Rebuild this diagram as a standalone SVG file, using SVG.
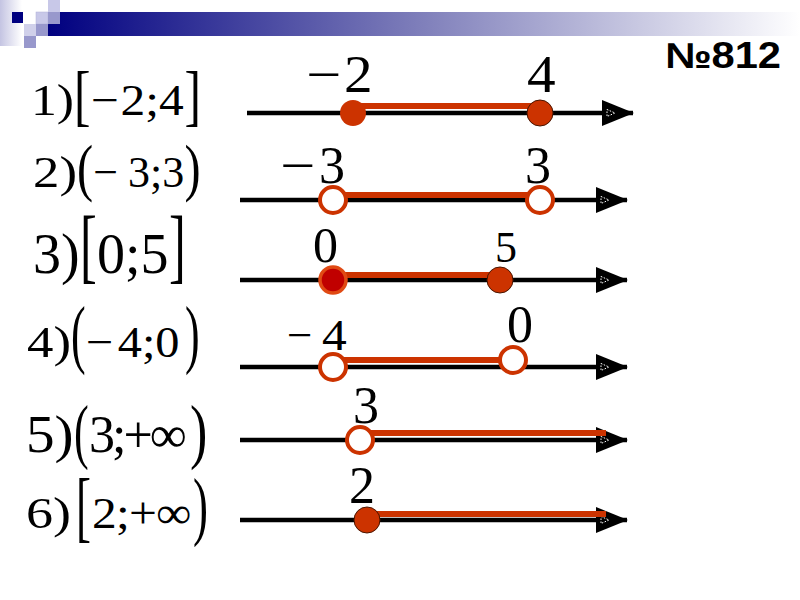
<svg xmlns="http://www.w3.org/2000/svg" width="800" height="600" viewBox="0 0 800 600">
<style>
.m{font-family:"Liberation Serif","Times New Roman",serif;fill:#000}
.axis{stroke:#000;stroke-width:4.5;fill:none;marker-end:url(#arr)}
.seg{stroke:#CC3300;stroke-width:6;fill:none}
.dot{fill:#CC3300;stroke:#4a1500;stroke-width:1}
.open{fill:#fff;stroke:#CC3300;stroke-width:4}
</style>
<defs>
<linearGradient id="bar" x1="0" y1="0" x2="1" y2="0">
<stop offset="0" stop-color="#000080"/>
<stop offset="0.5" stop-color="#8080bb"/>
<stop offset="1" stop-color="#ffffff"/>
</linearGradient>
<linearGradient id="side" x1="0" y1="0" x2="1" y2="0">
<stop offset="0" stop-color="#c4c4e2"/>
<stop offset="1" stop-color="#ffffff"/>
</linearGradient>
<marker id="arr" markerUnits="userSpaceOnUse" markerWidth="32" markerHeight="26" viewBox="0 0 32 26" refX="31" refY="13" orient="auto">
<path d="M0,0 L32,13 L0,26 Z" fill="#000"/>
<path d="M5,9.5 L13,13 L5,16.5 Z" fill="none" stroke="#fff" stroke-width="1" stroke-dasharray="1.5,1.5"/>
</marker>
</defs>
<rect width="800" height="600" fill="#fff"/>
<g id="banner">
<rect x="0" y="0" width="22" height="46" fill="url(#side)"/>
<rect x="48" y="12" width="752" height="24" fill="url(#bar)"/>
<rect x="12" y="12" width="11" height="11" fill="#000080"/>
<rect x="36" y="12" width="12" height="12" fill="#c8c8e8" stroke="#b0b0d8" stroke-width="0.5"/>
<rect x="48" y="0" width="12" height="12" fill="#c8c8e8"/>
<rect x="48" y="12" width="12" height="12" fill="#9898cc"/>
<rect x="24" y="24" width="12" height="12" fill="#d0d0ea"/>
<rect x="36" y="24" width="12" height="12" fill="#9898cc"/>
<rect x="24" y="36" width="12" height="12" fill="#9898cc"/>
</g>
<text id="title" x="665" y="68" font-family="'Liberation Sans',Arial,sans-serif" font-weight="bold" font-size="36" textLength="116" lengthAdjust="spacingAndGlyphs">№812</text>

<g id="labels">
<g id="label1" font-size="45">
<text class="m" transform="translate(31,115) scale(1.15,1)">1)</text>
<text class="m" transform="translate(74,117.5) scale(1.1,1.5)">[</text>
<text class="m" transform="translate(91,115) scale(1.1,1)">−<tspan dx="1.5">2;4</tspan></text>
<text class="m" transform="translate(184.5,117.5) scale(1.1,1.5)">]</text>
</g>
<g id="label2" font-size="44">
<text class="m" transform="translate(33,187) scale(1.2,1)">2)</text>
<text class="m" transform="translate(77,189) scale(1.1,1.45)">(</text>
<text class="m" transform="translate(93.2,187)">−<tspan dx="10">3;3</tspan></text>
<text class="m" transform="translate(184.5,189) scale(1.1,1.45)">)</text>
</g>
<g id="label3" font-size="56">
<text class="m" transform="translate(33,273)">3)</text>
<text class="m" transform="translate(80,273) scale(0.9,1.46)">[</text>
<text class="m" transform="translate(97,273)">0;5</text>
<text class="m" transform="translate(169,273) scale(0.9,1.46)">]</text>
</g>
<g id="label4" font-size="44">
<text class="m" transform="translate(27,357) scale(1.2,1)">4)</text>
<text class="m" transform="translate(71,359) scale(1,1.75)">(</text>
<text class="m" transform="translate(86,357) scale(1.1,1)">−<tspan dx="4">4;0</tspan></text>
<text class="m" transform="translate(185,359) scale(1,1.75)">)</text>
</g>
<g id="label5" font-size="52">
<text class="m" transform="translate(26,452) scale(1.1,1)">5)</text>
<text class="m" transform="translate(74,455) scale(0.85,1.4)">(</text>
<text class="m" transform="translate(89,452)" letter-spacing="-3">3;+∞</text>
<text class="m" transform="translate(190,455) scale(1,1.4)">)</text>
</g>
<g id="label6" font-size="45">
<text class="m" transform="translate(26,528) scale(1.2,1)">6)</text>
<text class="m" transform="translate(76,533) scale(1,1.73)">[</text>
<text class="m" transform="translate(92,528) scale(1.1,1)" letter-spacing="-0.7">2;+∞</text>
<text class="m" transform="translate(193,531) scale(1,1.7)">)</text>
</g>
</g>

<g id="line1">
<line class="axis" x1="247" y1="113" x2="633" y2="113"/>
<line class="seg" x1="353" y1="106" x2="540" y2="106"/>
<circle cx="353" cy="113" r="13" fill="#CC3300"/>
<circle class="dot" cx="540" cy="113" r="13"/>
<text class="m" font-size="52" transform="translate(306,92) scale(1.2,1)">−</text>
<text class="m" font-size="52" transform="translate(344,92) scale(1.1,1)">2</text>
<text class="m" font-size="52" transform="translate(527,92) scale(1.1,1)">4</text>
</g>
<g id="line2">
<line class="axis" x1="240" y1="200" x2="627" y2="200"/>
<line class="seg" x1="333" y1="195" x2="540" y2="195"/>
<circle class="open" cx="333" cy="200" r="13" stroke="#C00000"/>
<circle class="open" cx="540" cy="200" r="13" stroke="#DD4411"/>
<text class="m" font-size="52" transform="translate(280,183) scale(1.2,1)">−</text>
<text class="m" font-size="52" transform="translate(319,183)">3</text>
<text class="m" font-size="52" transform="translate(525,183)">3</text>
</g>
<g id="line3">
<line class="axis" x1="240" y1="280" x2="627" y2="280"/>
<line class="seg" x1="333" y1="275" x2="500" y2="275"/>
<circle cx="333" cy="280" r="13" fill="#C00000" stroke="#E04A14" stroke-width="3.5"/>
<circle class="dot" cx="500" cy="280" r="13"/>
<text class="m" font-size="50" transform="translate(313,262)">0</text>
<text class="m" font-size="44" transform="translate(495,262)">5</text>
</g>
<g id="line4">
<line class="axis" x1="240" y1="367" x2="627" y2="367"/>
<line class="seg" x1="333" y1="360" x2="513" y2="360"/>
<circle class="open" cx="333" cy="367" r="13"/>
<circle class="open" cx="513" cy="360" r="13"/>
<text class="m" font-size="45" transform="translate(287,350)">−</text>
<text class="m" font-size="45" transform="translate(322,350) scale(1.1,1)">4</text>
<text class="m" font-size="52" transform="translate(507,342)">0</text>
</g>
<g id="line5">
<line class="axis" x1="240" y1="440" x2="627" y2="440"/>
<line class="seg" x1="360" y1="433" x2="606" y2="433"/>
<circle class="open" cx="360" cy="440" r="13"/>
<text class="m" font-size="52" transform="translate(353,423)">3</text>
</g>
<g id="line6">
<line class="axis" x1="240" y1="520" x2="627" y2="520"/>
<line class="seg" x1="367" y1="514" x2="606" y2="514"/>
<circle class="dot" cx="367" cy="520" r="13"/>
<text class="m" font-size="52" transform="translate(349,503)">2</text>
</g>
</svg>
